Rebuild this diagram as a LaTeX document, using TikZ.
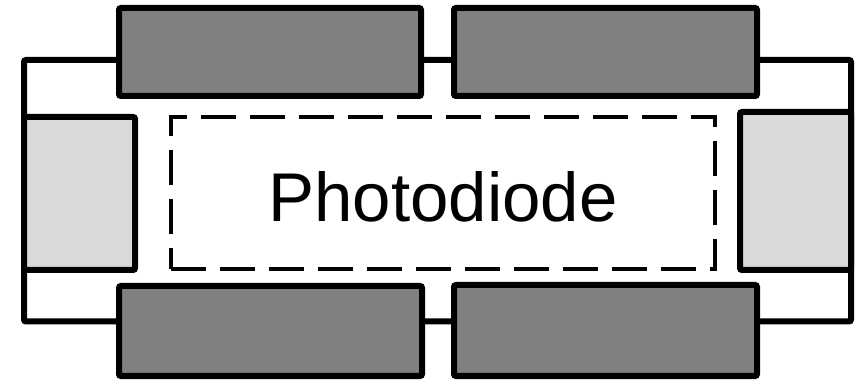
\documentclass[tikz,border=0pt]{standalone}
\usepackage{fontspec}
\setmainfont{Liberation Sans}
\begin{document}
\begin{tikzpicture}[x=1pt,y=-1pt,
  darkbox/.style={draw=black,line width=6pt,fill=gray,rounded corners=2pt,inner sep=0pt,outer sep=0pt,anchor=north west},
  lightbox/.style={draw=black,line width=6pt,fill=gray!30,rounded corners=2pt,inner sep=0pt,outer sep=0pt,anchor=north west},
  wire/.style={draw=black,line width=6pt,rounded corners=2pt},
  pdbox/.style={draw=black,line width=4pt,dash pattern=on 35pt off 14pt,inner sep=0pt,outer sep=0pt,anchor=north west}]
\useasboundingbox (0,0) rectangle (863,382);
% wire loop coordinates
\coordinate (wtl) at (24,60);
\coordinate (wbr) at (851,321.5);
\path[wire] (wtl) rectangle (wbr);
% photodiode
\node[pdbox,minimum width=544.5pt,minimum height=152pt] (pd) at (170.5,117) {};
\node[font=\fontsize{69}{80}\selectfont] (lbl) at (443,197) {Photodiode};
% dark boxes
\node[darkbox,minimum width=302pt,minimum height=88pt] (tl) at (119,8) {};
\node[darkbox,minimum width=303pt,minimum height=88pt] (tr) at (454,8) {};
\node[darkbox,minimum width=303pt,minimum height=90pt] (bl) at (119,286) {};
\node[darkbox,minimum width=303pt,minimum height=91pt] (br) at (454,285) {};
% light boxes
\node[lightbox,minimum width=111pt,minimum height=153pt] (lb) at (24,117) {};
\node[lightbox,minimum width=111pt,minimum height=158pt] (rb) at (740,112) {};
\end{tikzpicture}
\end{document}
